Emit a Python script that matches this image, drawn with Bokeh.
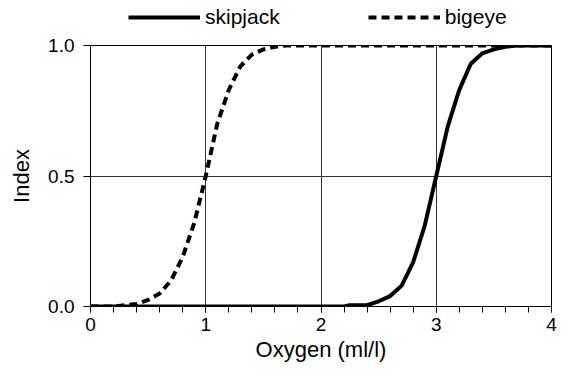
from bokeh.plotting import figure
from bokeh.layouts import column
from bokeh.models import Range1d, Legend, LegendItem, FixedTicker, PrintfTickFormatter
from bokeh.embed import file_html
from bokeh.resources import INLINE

skipjack_x = [0, 2.2, 2.25, 2.4, 2.5, 2.6, 2.7, 2.8, 2.9, 3.0, 3.1, 3.2, 3.3, 3.4, 3.5, 3.6, 3.7, 4.0]
skipjack_y = [0, 0, 0.005, 0.005, 0.02, 0.04, 0.08, 0.17, 0.31, 0.5, 0.69, 0.83, 0.93, 0.97, 0.985, 0.995, 1.0, 1.0]

bigeye_x = [0, 0.2, 0.3, 0.4, 0.5, 0.6, 0.7, 0.8, 0.9, 1.0, 1.05, 1.1, 1.2, 1.3, 1.4, 1.5, 1.6, 1.7, 4.0]
bigeye_y = [0, 0, 0.005, 0.01, 0.025, 0.05, 0.1, 0.19, 0.32, 0.5, 0.6, 0.7, 0.83, 0.92, 0.965, 0.985, 0.995, 1.0, 1.0]

series_names = ["skipjack", "bigeye"]

x_ticks = [0, 1, 2, 3, 4]
x_minor = [i * 0.2 for i in range(21)]
y_ticks = [0, 0.5, 1.0]

FONT = "Liberation Sans"
LW = 4
DASH = "8 5"

# ---- legend strip ----
top = figure(width=557, height=33, output_backend="svg", toolbar_location=None,
             x_axis_type=None, y_axis_type=None, x_range=Range1d(0, 4), y_range=Range1d(0, 1),
             min_border=0)
top.outline_line_color = None
top.xgrid.visible = False
top.ygrid.visible = False
l1 = top.line(skipjack_x, skipjack_y, line_color="black", line_width=LW, visible=False)
l2 = top.line(bigeye_x, bigeye_y, line_color="black", line_width=LW, line_dash=DASH, visible=False)
legend = Legend(items=[LegendItem(label=series_names[0], renderers=[l1]),
                       LegendItem(label=series_names[1], renderers=[l2])],
                orientation="horizontal", location=(38, 4),
                glyph_width=72, glyph_height=16, label_height=16,
                label_standoff=5, spacing=88, padding=0, margin=0,
                border_line_color=None, background_fill_alpha=0,
                label_text_font=FONT, label_text_font_size="21px",
                label_text_color="black")
top.add_layout(legend, "center")

# ---- main chart ----
p = figure(width=557, height=335, output_backend="svg", toolbar_location=None,
           x_range=Range1d(0, 4), y_range=Range1d(0, 1),
           min_border_left=90, min_border_right=6, min_border_top=12, min_border_bottom=62)

p.outline_line_color = "black"
p.outline_line_width = 1
p.background_fill_color = "white"
p.border_fill_color = "white"

p.xaxis.ticker = FixedTicker(ticks=x_ticks, minor_ticks=x_minor)
p.yaxis.ticker = FixedTicker(ticks=y_ticks)
p.yaxis.formatter = PrintfTickFormatter(format="%.1f")

for ax in (p.xaxis, p.yaxis):
    ax.axis_line_color = "black"
    ax.major_tick_line_color = "black"
    ax.major_tick_out = 6
    ax.major_tick_in = 0
    ax.minor_tick_out = 6
    ax.minor_tick_in = 0
    ax.major_label_text_font = FONT
    ax.major_label_text_font_size = "19px"
    ax.major_label_text_color = "black"
    ax.axis_label_text_font = FONT
    ax.axis_label_text_font_size = "22px"
    ax.axis_label_text_font_style = "normal"
    ax.axis_label_text_color = "black"

p.yaxis.major_tick_out = 7
p.yaxis.minor_tick_line_color = None
p.xaxis.minor_tick_line_color = "black"
p.xaxis.major_label_standoff = 5
p.yaxis.major_label_standoff = 9
p.xaxis.axis_label = "Oxygen (ml/l)"
p.yaxis.axis_label = "Index"
p.xaxis.axis_label_standoff = 3
p.yaxis.axis_label_standoff = 11

p.xgrid.ticker = FixedTicker(ticks=x_ticks)
p.ygrid.ticker = FixedTicker(ticks=y_ticks)
p.xgrid.grid_line_color = "#333333"
p.ygrid.grid_line_color = "#333333"
p.xgrid.grid_line_width = 1
p.ygrid.grid_line_width = 1

p.line(skipjack_x, skipjack_y, line_color="black", line_width=LW)
p.line(bigeye_x, bigeye_y, line_color="black", line_width=LW, line_dash=DASH)

layout = column(top, p, spacing=0)
open("out.html", "w").write(file_html(layout, INLINE))
